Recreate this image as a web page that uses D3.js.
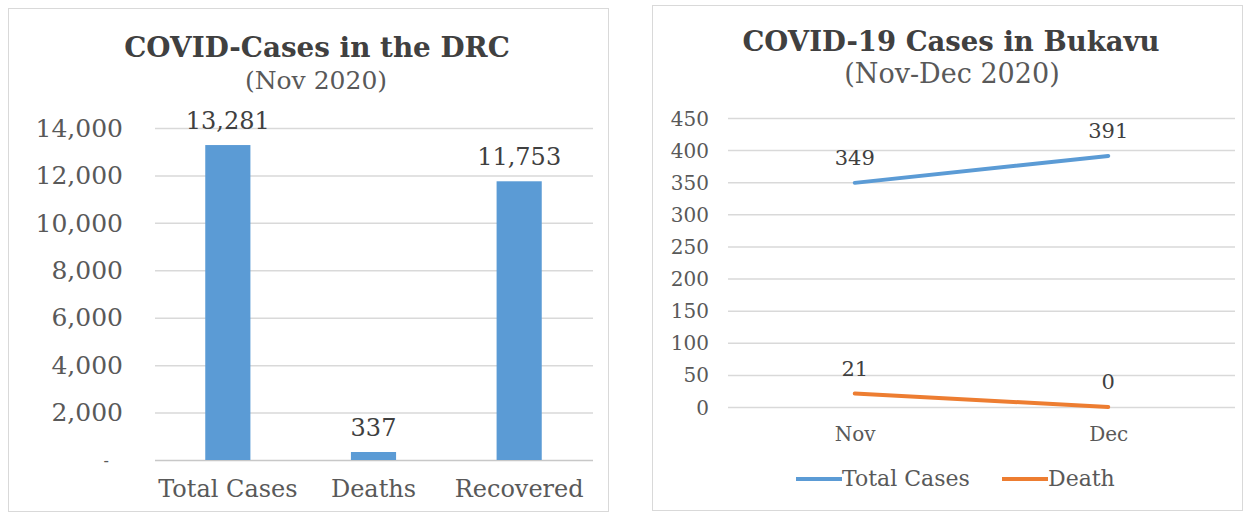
<!DOCTYPE html>
<html><head><meta charset="utf-8">
<script src="https://cdn.jsdelivr.net/npm/d3@7"></script>
<style>body{margin:0;background:#fff}svg{display:block}</style>
</head><body>
<svg id="c" width="1250" height="515"></svg>
<script>
// Left chart data
const barCategories = ["Total Cases", "Deaths", "Recovered"];
const barValues = [13281, 337, 11753];
const barTicks = [0, 2000, 4000, 6000, 8000, 10000, 12000, 14000];
// Right chart data
const months = ["Nov", "Dec"];
const totalCases = [349, 391];
const deaths = [21, 0];
const lineTicks = [0, 50, 100, 150, 200, 250, 300, 350, 400, 450];
const seriesNames = ["Total Cases", "Death"];

const FONT = "'DejaVu Serif', serif";
const TXT = "#595959";
const GRID = "#d9d9d9";
const BLUE = "#5b9bd5", ORANGE = "#ed7d31";
const svg = d3.select("#c");

// panel borders
svg.append("rect").attr("x", 8.5).attr("y", 8.5).attr("width", 600).attr("height", 503)
  .attr("fill", "#fff").attr("stroke", GRID);
svg.append("rect").attr("x", 652.5).attr("y", 5.5).attr("width", 590).attr("height", 505)
  .attr("fill", "#fff").attr("stroke", GRID);

// ---------- Left: bar chart ----------
{
  const g = svg.append("g");
  const x = d3.scaleBand().domain(barCategories).range([155, 592]).paddingInner(0.69).paddingOuter(0.345);
  const y = d3.scaleLinear().domain([0, 14000]).range([460, 128]);
  g.append("text").attr("x", 317).attr("y", 57).attr("text-anchor", "middle")
    .attr("font-family", FONT).attr("font-weight", "bold").attr("font-size", 27.8).attr("fill", "#404040")
    .text("COVID-Cases in the DRC");
  g.append("text").attr("x", 316).attr("y", 89).attr("text-anchor", "middle")
    .attr("font-family", FONT).attr("font-size", 25).attr("fill", TXT).text("(Nov 2020)");
  const yAxis = d3.axisLeft(y).tickValues(barTicks).tickSize(0).tickPadding(0)
    .tickFormat(d => d === 0 ? "-" : d3.format(",")(d));
  const ya = g.append("g").attr("transform", "translate(123,0)").call(yAxis);
  ya.select(".domain").remove();
  ya.selectAll("text").attr("font-family", FONT).attr("font-size", 25).attr("fill", TXT).attr("dy", "0.33em");
  ya.selectAll(".tick").filter(d => d === 0).select("text").attr("font-size", 16).attr("dx", "-14");
  g.append("g").selectAll("line").data(barTicks).join("line")
    .attr("x1", 155).attr("x2", 593).attr("y1", d => y(d) + 0.5).attr("y2", d => y(d) + 0.5)
    .attr("stroke", d => d === 0 ? "#c8c8c8" : GRID).attr("stroke-width", 1.5);
  g.append("g").selectAll("rect").data(barValues).join("rect")
    .attr("x", (d, i) => x(barCategories[i])).attr("width", x.bandwidth())
    .attr("y", d => y(d)).attr("height", d => y(0) - y(d)).attr("fill", BLUE);
  g.append("g").selectAll("text").data(barValues).join("text")
    .attr("x", (d, i) => x(barCategories[i]) + x.bandwidth() / 2).attr("y", d => y(d) - 16)
    .attr("text-anchor", "middle").attr("font-family", FONT).attr("font-size", 24).attr("fill", "#404040")
    .text(d => d3.format(",")(d));
  const xa = g.append("g").attr("transform", "translate(0,460)").call(d3.axisBottom(x).tickSize(0).tickPadding(0));
  xa.select(".domain").remove();
  xa.selectAll("text").attr("font-family", FONT).attr("font-size", 24).attr("fill", TXT).attr("dy", "37");
}

// ---------- Right: line chart ----------
{
  const g = svg.append("g");
  const x = d3.scalePoint().domain(months).range([728, 1235]).padding(0.5);
  const y = d3.scaleLinear().domain([0, 450]).range([407, 118]);
  g.append("text").attr("x", 951).attr("y", 51).attr("text-anchor", "middle")
    .attr("font-family", FONT).attr("font-weight", "bold").attr("font-size", 27.5).attr("fill", "#404040")
    .text("COVID-19 Cases in Bukavu");
  g.append("text").attr("x", 952).attr("y", 83).attr("text-anchor", "middle")
    .attr("font-family", FONT).attr("font-size", 27).attr("fill", TXT).text("(Nov-Dec 2020)");
  const ya = g.append("g").attr("transform", "translate(709,0)")
    .call(d3.axisLeft(y).tickValues(lineTicks).tickSize(0).tickPadding(0));
  ya.select(".domain").remove();
  ya.selectAll("text").attr("font-family", FONT).attr("font-size", 20).attr("fill", TXT).attr("dy", "0.35em");
  g.append("g").selectAll("line").data(lineTicks).join("line")
    .attr("x1", 728).attr("x2", 1235).attr("y1", d => y(d) + 0.5).attr("y2", d => y(d) + 0.5)
    .attr("stroke", GRID).attr("stroke-width", 1.5);
  const line = d3.line().x((d, i) => x(months[i])).y(d => y(d));
  const series = [{name: seriesNames[0], vals: totalCases, color: BLUE},
                  {name: seriesNames[1], vals: deaths, color: ORANGE}];
  series.forEach(s => {
    g.append("path").attr("d", line(s.vals)).attr("fill", "none").attr("stroke", s.color)
      .attr("stroke-width", 4).attr("stroke-linecap", "round");
    g.append("g").selectAll("text").data(s.vals).join("text")
      .attr("x", (d, i) => x(months[i])).attr("y", d => y(d) - 18)
      .attr("text-anchor", "middle").attr("font-family", FONT).attr("font-size", 21).attr("fill", "#404040")
      .text(d => d);
  });
  const xa = g.append("g").attr("transform", "translate(0,407)").call(d3.axisBottom(x).tickSize(0).tickPadding(0));
  xa.select(".domain").remove();
  xa.selectAll("text").attr("font-family", FONT).attr("font-size", 20).attr("fill", TXT).attr("dy", "34");
  // legend
  const lx = [796, 1002];
  series.forEach((s, i) => {
    g.append("line").attr("x1", lx[i]).attr("x2", lx[i] + 46).attr("y1", 479).attr("y2", 479)
      .attr("stroke", s.color).attr("stroke-width", 4);
    g.append("text").attr("x", lx[i] + 46).attr("y", 478).attr("dy", "0.35em")
      .attr("font-family", FONT).attr("font-size", 22).attr("fill", TXT).text(s.name);
  });
}
</script>
</body></html>
